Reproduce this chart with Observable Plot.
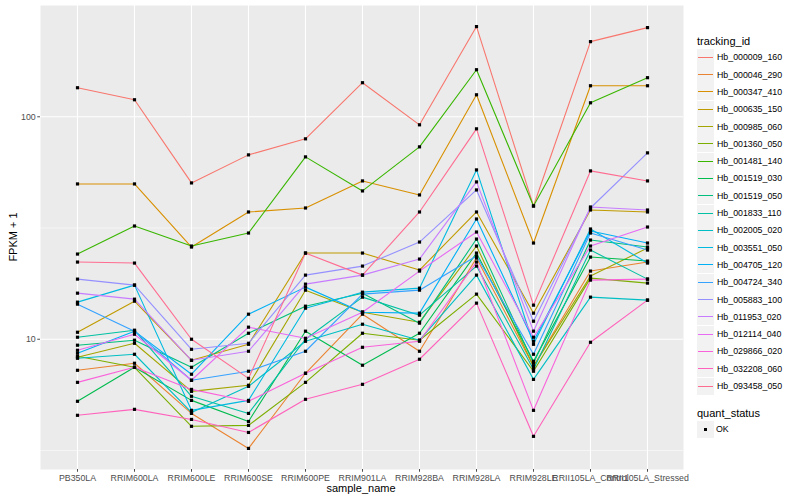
<!DOCTYPE html>
<html><head><meta charset="utf-8">
<script src="https://cdn.jsdelivr.net/npm/d3@7"></script>
<script src="https://cdn.jsdelivr.net/npm/@observablehq/plot@0.6"></script>
<style>
body{margin:0;background:#fff;font-family:"Liberation Sans",Arial,Helvetica,sans-serif;}
#wrap{position:relative;width:800px;height:500px;overflow:hidden;}
.t{position:absolute;white-space:nowrap;line-height:1;}
</style></head><body>
<div id="wrap"></div>
<script>
// categories
const samples = ["PB350LA","RRIM600LA","RRIM600LE","RRIM600SE","RRIM600PE","RRIM901LA","RRIM928BA","RRIM928LA","RRIM928LE","RRII105LA_Control","RRII105LA_Stressed"];
const trackingIds = ["Hb_000009_160","Hb_000046_290","Hb_000347_410","Hb_000635_150","Hb_000985_060","Hb_001360_050","Hb_001481_140","Hb_001519_030","Hb_001519_050","Hb_001833_110","Hb_002005_020","Hb_003551_050","Hb_004705_120","Hb_004724_340","Hb_005883_100","Hb_011953_020","Hb_012114_040","Hb_029866_020","Hb_032208_060","Hb_093458_050"];
const seriesColors = ["#F8766D","#EA8331","#D89000","#C09B00","#A3A500","#7CAE00","#39B600","#00BB4E","#00BF7D","#00C1A3","#00BFC4","#00BAE0","#00B0F6","#35A2FF","#9590FF","#C77CFF","#E76BF3","#FA62DB","#FF62BC","#FF6C91"];
const yTicks = [10, 100];
const yMinor = [3.162, 31.62];

// FPKM + 1 per sample, one array per tracking_id
const hb000009_160 = [135.1, 119.3, 50.43, 67.42, 79.60, 142.3, 92.03, 254.4, 39.73, 217.7, 251.7];
const hb000046_290 = [7.25, 7.80, 4.64, 3.23, 7.03, 12.96, 8.83, 23.17, 7.56, 20.25, 22.23];
const hb000347_410 = [49.91, 49.91, 25.97, 37.33, 38.91, 51.49, 44.53, 125.6, 27.07, 137.9, 137.9];
const hb000635_150 = [10.75, 14.83, 8.04, 9.49, 24.40, 24.40, 20.46, 37.33, 13.10, 38.11, 37.33];
const hb000985_060 = [8.30, 9.59, 5.83, 6.21, 16.62, 13.23, 11.93, 26.24, 7.56, 19.22, 25.70];
const hb001360_050 = [8.38, 7.48, 4.06, 4.10, 6.40, 10.64, 9.90, 15.95, 7.18, 18.83, 17.88];
const hb001481_140 = [24.15, 32.29, 26.24, 30.02, 66.04, 46.42, 73.26, 162.8, 39.73, 115.6, 149.9];
const hb001519_030 = [5.26, 7.48, 5.31, 4.27, 10.87, 7.64, 10.64, 24.40, 7.96, 23.41, 22.46];
const hb001519_050 = [9.40, 9.90, 7.48, 10.64, 14.08, 16.11, 11.81, 28.21, 7.80, 27.92, 25.97];
const hb001833_110 = [10.21, 10.98, 5.54, 4.64, 10.0, 15.46, 12.83, 21.32, 7.33, 25.17, 18.63];
const hb002005_020 = [8.21, 8.56, 4.69, 6.14, 9.79, 11.68, 9.90, 19.42, 6.60, 15.46, 14.99];
const hb003551_050 = [14.68, 17.51, 4.79, 5.31, 13.79, 16.28, 16.97, 57.71, 9.49, 31.30, 22.00];
const hb004705_120 = [8.65, 10.87, 6.96, 12.96, 17.15, 13.23, 13.10, 34.72, 9.79, 30.65, 27.07];
const hb004724_340 = [14.38, 10.87, 6.54, 7.18, 8.83, 15.95, 16.62, 23.65, 8.56, 30.02, 25.17];
const hb005883_100 = [18.63, 17.51, 9.01, 9.59, 19.42, 21.32, 27.35, 46.90, 12.05, 38.91, 68.84];
const hb011953_020 = [16.11, 15.14, 8.04, 8.83, 17.69, 19.42, 22.93, 50.96, 10.87, 39.32, 38.11];
const hb012114_040 = [8.92, 10.53, 6.54, 11.33, 10.10, 13.23, 20.25, 30.34, 10.21, 26.24, 31.95];
const hb029866_020 = [6.40, 7.48, 5.95, 5.26, 7.03, 9.20, 9.79, 22.23, 4.79, 18.44, 18.63];
const hb032208_060 = [4.55, 4.84, 4.36, 3.81, 5.37, 6.27, 8.13, 14.53, 3.66, 9.69, 14.99];
const hb093458_050 = [22.23, 22.00, 10.0, 6.67, 24.40, 19.42, 37.33, 88.29, 14.23, 57.11, 51.49];

const seriesValues = [hb000009_160, hb000046_290, hb000347_410, hb000635_150, hb000985_060, hb001360_050, hb001481_140, hb001519_030, hb001519_050, hb001833_110, hb002005_020, hb003551_050, hb004705_120, hb004724_340, hb005883_100, hb011953_020, hb012114_040, hb029866_020, hb032208_060, hb093458_050];

const rows = [];
trackingIds.forEach((id, i) => seriesValues[i].forEach((v, j) => rows.push({id, sample: samples[j], value: v, status: "OK"})));

const allV = rows.map(d => Math.log10(d.value));
const lo = d3.min(allV), hi = d3.max(allV), pad = (hi - lo) * 0.05;

const plot = Plot.plot({
  width: 800, height: 500,
  marginLeft: 40, marginRight: 117, marginTop: 5, marginBottom: 31,
  style: {fontFamily: '"Liberation Sans",Arial,Helvetica,sans-serif', fontSize: "8.8px", background: "white", color: "#4D4D4D", overflow: "visible"},
  x: {type: "point", domain: samples, padding: 0.6, label: null},
  y: {type: "log", domain: [Math.pow(10, lo - pad), Math.pow(10, hi + pad)], label: null},
  color: {domain: trackingIds, range: seriesColors, legend: false},
  marks: [
    Plot.frame({fill: "#EBEBEB", stroke: "none"}),
    Plot.ruleY(yMinor, {stroke: "white", strokeWidth: 0.55}),
    Plot.ruleY(yTicks, {stroke: "white", strokeWidth: 1.1}),
    Plot.ruleX(samples, {stroke: "white", strokeWidth: 1.1}),
    Plot.line(rows, {x: "sample", y: "value", z: "id", stroke: "id", strokeWidth: 1.1}),
    Plot.dot(rows, {x: "sample", y: "value", symbol: "square", r: 1.8, fill: "black", stroke: "none"}),
    Plot.axisX({tickSize: 2.75, tickPadding: 2, label: null, color: "#4D4D4D"}),
    Plot.axisY({ticks: yTicks, tickFormat: d => String(d), tickSize: 2.75, tickPadding: 2, label: null, color: "#4D4D4D"})
  ]
});
const wrap = document.getElementById("wrap");
wrap.appendChild(plot);

function addText(txt, left, top, size, extra) {
  const d = document.createElement("div");
  d.className = "t";
  d.textContent = txt;
  d.style.left = left + "px";
  d.style.top = top + "px";
  d.style.fontSize = size + "px";
  if (extra) Object.assign(d.style, extra);
  wrap.appendChild(d);
  return d;
}
// axis titles
addText("sample_name", 361, 488, 11, {transform: "translate(-50%,-50%)"});
addText("FPKM + 1", 12.5, 237, 11, {transform: "translate(-50%,-50%) rotate(-90deg)"});

// legend: tracking_id
addText("tracking_id", 697, 40.5, 11, {transform: "translateY(-50%)"});
trackingIds.forEach((id, i) => {
  const cy = 57.3 + 17.3 * i;
  const top = Math.round(cy - 8.5);
  const box = document.createElement("div");
  Object.assign(box.style, {position: "absolute", left: "697px", top: top + "px", width: "17px", height: "17px", background: "#F2F2F2"});
  const ln = document.createElement("div");
  Object.assign(ln.style, {position: "absolute", left: "1px", top: "8px", width: "15px", height: "1px", background: seriesColors[i]});
  box.appendChild(ln);
  wrap.appendChild(box);
  addText(id, 717, cy, 8.8, {transform: "translateY(-50%)", color: "#000"});
});
// legend: quant_status
addText("quant_status", 697, 412.7, 11, {transform: "translateY(-50%)"});
{
  const cy = 429;
  const box = document.createElement("div");
  Object.assign(box.style, {position: "absolute", left: "697px", top: Math.round(cy - 8.5) + "px", width: "17px", height: "17px", background: "#F2F2F2"});
  const sq = document.createElement("div");
  Object.assign(sq.style, {position: "absolute", left: "7px", top: "7px", width: "3px", height: "3px", background: "#000"});
  box.appendChild(sq);
  wrap.appendChild(box);
  addText("OK", 716, cy, 8.8, {transform: "translateY(-50%)", color: "#000"});
}
</script>
</body></html>
